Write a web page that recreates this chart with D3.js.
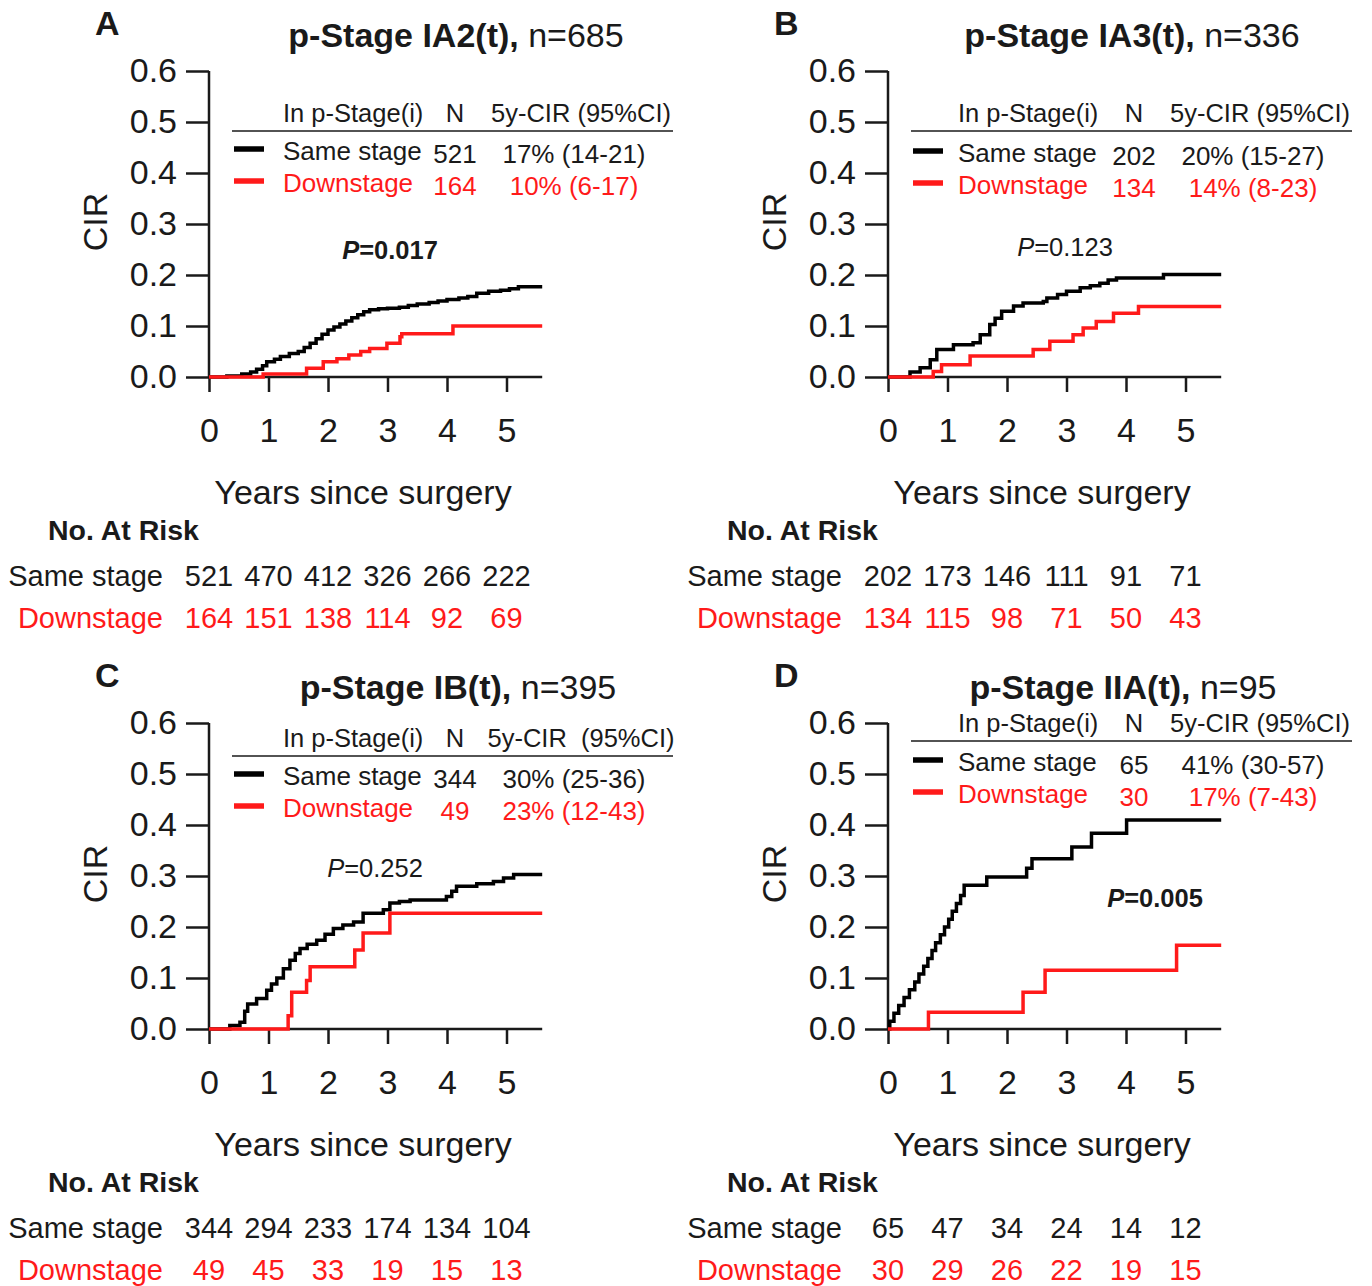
<!DOCTYPE html>
<html>
<head>
<meta charset="utf-8">
<script src="https://cdn.jsdelivr.net/npm/d3@7"></script>
<style>
  body { margin: 0; background: #fff; }
  svg { font-family: Arial, "Liberation Sans", sans-serif; }
</style>
</head>
<body>
<div id="chart"></div>
<script>
// panel labels and titles
var panelLetters = ["A", "B", "C", "D"];
var stageNames = ["p-Stage IA2(t),", "p-Stage IA3(t),", "p-Stage IB(t),", "p-Stage IIA(t),"];
var stageTotals = ["n=685", "n=336", "n=395", "n=95"];
var pValues = ["0.017", "0.123", "0.252", "0.005"];
var pBold = [true, false, false, true];

// legend table values
var sameN = ["521", "202", "344", "65"];
var downN = ["164", "134", "49", "30"];
var sameCir = ["17% (14-21)", "20% (15-27)", "30% (25-36)", "41% (30-57)"];
var downCir = ["10% (6-17)", "14% (8-23)", "23% (12-43)", "17% (7-43)"];
var cirHeads = ["5y-CIR (95%CI)", "5y-CIR (95%CI)", "5y-CIR  (95%CI)", "5y-CIR (95%CI)"];

// axis ticks
var yTicks = [0, 0.1, 0.2, 0.3, 0.4, 0.5, 0.6];
var xTicks = [0, 1, 2, 3, 4, 5];

// numbers at risk at 0..5 years
var riskSame = [
  [521, 470, 412, 326, 266, 222],
  [202, 173, 146, 111, 91, 71],
  [344, 294, 233, 174, 134, 104],
  [65, 47, 34, 24, 14, 12]
];
var riskDown = [
  [164, 151, 138, 114, 92, 69],
  [134, 115, 98, 71, 50, 43],
  [49, 45, 33, 19, 15, 13],
  [30, 29, 26, 22, 19, 15]
];

// cumulative incidence step points [years, CIR]
var curveSameA = [[0,0],[0.3,0.002],[0.55,0.006],[0.7,0.01],[0.8,0.015],[0.9,0.022],[0.97,0.03],[1.1,0.035],[1.2,0.04],[1.35,0.046],[1.5,0.05],[1.6,0.058],[1.7,0.066],[1.8,0.075],[1.9,0.084],[2.0,0.092],[2.1,0.098],[2.2,0.104],[2.3,0.11],[2.4,0.116],[2.5,0.122],[2.6,0.128],[2.7,0.132],[2.85,0.134],[3.0,0.135],[3.2,0.137],[3.35,0.14],[3.5,0.143],[3.7,0.146],[3.85,0.149],[4.0,0.152],[4.2,0.155],[4.35,0.158],[4.5,0.164],[4.7,0.168],[4.9,0.17],[5.05,0.173],[5.2,0.177]];
var curveDownA = [[0,0],[0.91,0.006],[1.64,0.017],[1.92,0.03],[2.15,0.036],[2.35,0.043],[2.55,0.05],[2.7,0.056],[2.99,0.066],[3.21,0.079],[3.24,0.085],[4.1,0.1]];
var curveSameB = [[0,0],[0.37,0.01],[0.54,0.018],[0.71,0.034],[0.82,0.054],[1.1,0.063],[1.43,0.067],[1.55,0.083],[1.71,0.103],[1.8,0.115],[1.91,0.129],[2.11,0.139],[2.27,0.145],[2.61,0.148],[2.67,0.155],[2.85,0.162],[3.0,0.168],[3.23,0.175],[3.4,0.179],[3.56,0.184],[3.7,0.19],[3.84,0.194],[4.63,0.201]];
var curveDownB = [[0,0],[0.76,0.011],[0.9,0.024],[1.38,0.041],[2.44,0.054],[2.72,0.07],[3.11,0.083],[3.28,0.096],[3.5,0.109],[3.79,0.125],[4.21,0.138]];
var curveSameC = [[0,0],[0.35,0.007],[0.52,0.013],[0.6,0.035],[0.65,0.049],[0.8,0.06],[0.97,0.076],[1.05,0.088],[1.14,0.1],[1.25,0.118],[1.36,0.135],[1.45,0.148],[1.53,0.158],[1.65,0.166],[1.81,0.174],[1.95,0.186],[2.09,0.197],[2.25,0.204],[2.43,0.21],[2.59,0.227],[2.93,0.234],[3.04,0.247],[3.2,0.25],[3.38,0.253],[3.99,0.26],[4.08,0.27],[4.16,0.28],[4.5,0.285],[4.78,0.289],[4.95,0.296],[5.12,0.303]];
var curveDownC = [[0,0],[1.33,0.026],[1.39,0.072],[1.64,0.095],[1.7,0.122],[2.45,0.155],[2.59,0.188],[3.04,0.227]];
var curveSameD = [[0,0],[0.03,0.015],[0.1,0.031],[0.18,0.046],[0.27,0.062],[0.36,0.077],[0.45,0.092],[0.52,0.108],[0.6,0.123],[0.67,0.138],[0.74,0.154],[0.8,0.169],[0.88,0.185],[0.95,0.2],[1.02,0.215],[1.08,0.231],[1.15,0.246],[1.22,0.262],[1.28,0.282],[1.66,0.298],[2.33,0.315],[2.42,0.334],[3.09,0.357],[3.42,0.384],[4.01,0.41]];
var curveDownD = [[0,0],[0.68,0.033],[2.27,0.072],[2.64,0.115],[4.85,0.164]];

var curvesSame = [curveSameA, curveSameB, curveSameC, curveSameD];
var curvesDown = [curveDownA, curveDownB, curveDownC, curveDownD];

var RED = "#ff1a1a";
var INK = "#1a1a1a";
var X_MAX = 5.6;

var svg = d3.select("#chart").append("svg")
  .attr("width", 1372)
  .attr("height", 1286);

// panel origins (x of y-axis, y of zero line), title and legend offsets
var panels = [
  {ox: 209, oy: 377, tx: 247, lx: 74, head: 113, line: 131, row1: 151, row2: 183, pX: 390, pY: 250},
  {ox: 888, oy: 377, tx: 244, lx: 70, head: 113, line: 131, row1: 153, row2: 185, pX: 1065, pY: 247},
  {ox: 209, oy: 1029, tx: 249, lx: 74, head: 738, line: 756, row1: 776, row2: 808, pX: 375, pY: 868},
  {ox: 888, oy: 1029, tx: 235, lx: 70, head: 723, line: 741, row1: 762, row2: 794, pX: 1155, pY: 898}
];

panels.forEach(function(p, i){
  drawPanel(p, i);
});

function drawPanel(p, i){
  var x = d3.scaleLinear().domain([0, X_MAX]).range([p.ox, p.ox + 59.5 * X_MAX]);
  var y = d3.scaleLinear().domain([0, 0.6]).range([p.oy, p.oy - 306]);
  var g = svg.append("g");

  // axes
  var yAxis = g.append("g")
    .attr("transform", "translate(" + p.ox + ",0)")
    .call(d3.axisLeft(y).tickValues(yTicks).tickSize(23).tickPadding(9).tickFormat(d3.format(".1f")));
  var xAxis = g.append("g")
    .attr("transform", "translate(0," + p.oy + ")")
    .call(d3.axisBottom(x).tickValues(xTicks).tickSize(15).tickPadding(26).tickFormat(d3.format("d")));
  [yAxis, xAxis].forEach(function(a){
    a.select(".domain").remove();
    a.selectAll(".tick line").attr("stroke", INK).attr("stroke-width", 2.5);
    a.selectAll(".tick text").attr("fill", INK).style("font-size", "34px");
  });
  g.append("line")
    .attr("x1", p.ox).attr("x2", p.ox)
    .attr("y1", y(0.6)).attr("y2", p.oy)
    .attr("stroke", INK).attr("stroke-width", 2.5);
  g.append("line")
    .attr("x1", p.ox).attr("x2", x(X_MAX))
    .attr("y1", p.oy).attr("y2", p.oy)
    .attr("stroke", INK).attr("stroke-width", 2.5);

  // axis titles
  g.append("text")
    .attr("transform", "translate(" + (p.ox - 114) + "," + (p.oy - 155) + ") rotate(-90)")
    .attr("text-anchor", "middle")
    .attr("dy", "0.35em")
    .attr("fill", INK)
    .style("font-size", "34px")
    .text("CIR");
  g.append("text")
    .attr("x", p.ox + 154)
    .attr("y", p.oy + 115)
    .attr("dy", "0.35em")
    .attr("text-anchor", "middle")
    .attr("fill", INK)
    .style("font-size", "34px")
    .text("Years since surgery");

  // panel letter and title
  g.append("text")
    .attr("x", p.ox - 114)
    .attr("y", p.oy - 354)
    .attr("dy", "0.35em")
    .attr("fill", INK)
    .style("font-size", "34px")
    .style("font-weight", "bold")
    .text(panelLetters[i]);
  var title = g.append("text")
    .attr("x", p.ox + p.tx)
    .attr("y", p.oy - 342)
    .attr("dy", "0.35em")
    .attr("text-anchor", "middle")
    .attr("fill", INK)
    .style("font-size", "34px");
  title.append("tspan").style("font-weight", "bold").text(stageNames[i]);
  title.append("tspan").text(" " + stageTotals[i]);

  // curves
  var line = d3.line()
    .x(function(d){ return x(d[0]); })
    .y(function(d){ return y(d[1]); })
    .curve(d3.curveStepAfter);
  var same = curvesSame[i].concat([[X_MAX, curvesSame[i][curvesSame[i].length - 1][1]]]);
  var down = curvesDown[i].concat([[X_MAX, curvesDown[i][curvesDown[i].length - 1][1]]]);
  g.append("path").attr("d", line(same))
    .attr("fill", "none").attr("stroke", "#000").attr("stroke-width", 3.5);
  g.append("path").attr("d", line(down))
    .attr("fill", "none").attr("stroke", RED).attr("stroke-width", 3.5);

  // p value
  var pt = g.append("text")
    .attr("x", p.pX)
    .attr("y", p.pY)
    .attr("dy", "0.35em")
    .attr("text-anchor", "middle")
    .attr("fill", INK)
    .style("font-size", "25.5px")
    .style("font-weight", pBold[i] ? "bold" : "normal");
  pt.append("tspan").style("font-style", "italic").text("P");
  pt.append("tspan").text("=" + pValues[i]);

  // legend table
  var lx = p.ox + 23;
  var cols = [p.ox + p.lx, p.ox + 246, p.ox + 372];
  var head = g.append("g").attr("fill", INK).style("font-size", "25.5px");
  head.append("text").attr("x", cols[0]).attr("y", p.head).attr("dy", "0.35em").text("In p-Stage(i)");
  head.append("text").attr("x", cols[1]).attr("y", p.head).attr("dy", "0.35em").attr("text-anchor", "middle").text("N");
  head.append("text").attr("x", cols[2]).attr("y", p.head).attr("dy", "0.35em").attr("text-anchor", "middle")
    .style("white-space", "pre").text(cirHeads[i]);
  g.append("line")
    .attr("x1", lx).attr("x2", p.ox + 464)
    .attr("y1", p.line).attr("y2", p.line)
    .attr("stroke", INK).attr("stroke-width", 1.5);

  var rows = [
    {y: p.row1, color: "#000", textColor: INK, label: "Same stage", n: sameN[i], cir: sameCir[i]},
    {y: p.row2, color: RED, textColor: RED, label: "Downstage", n: downN[i], cir: downCir[i]}
  ];
  rows.forEach(function(r){
    g.append("line")
      .attr("x1", lx + 2).attr("x2", lx + 32)
      .attr("y1", r.y - 2).attr("y2", r.y - 2)
      .attr("stroke", r.color).attr("stroke-width", 5.5);
    var rg = g.append("g").attr("fill", r.textColor).style("font-size", "26px");
    rg.append("text").attr("x", cols[0]).attr("y", r.y).attr("dy", "0.35em").text(r.label);
    rg.append("text").attr("x", cols[1]).attr("y", r.y + 3).attr("dy", "0.35em").attr("text-anchor", "middle").text(r.n);
    rg.append("text").attr("x", p.ox + 365).attr("y", r.y + 3).attr("dy", "0.35em").attr("text-anchor", "middle").text(r.cir);
  });

  // numbers at risk
  var baseY = p.oy + 153;
  g.append("text")
    .attr("x", p.ox - 161)
    .attr("y", baseY)
    .attr("dy", "0.35em")
    .attr("fill", INK)
    .style("font-size", "28.5px")
    .style("font-weight", "bold")
    .text("No. At Risk");
  [{vals: riskSame[i], label: "Same stage", color: INK, dy: 46},
   {vals: riskDown[i], label: "Downstage", color: RED, dy: 88}].forEach(function(r){
    g.append("text")
      .attr("x", p.ox - 46)
      .attr("y", baseY + r.dy)
      .attr("dy", "0.35em")
      .attr("text-anchor", "end")
      .attr("fill", r.color)
      .style("font-size", "29px")
      .text(r.label);
    g.selectAll(null).data(r.vals).enter().append("text")
      .attr("x", function(d, k){ return x(xTicks[k]); })
      .attr("y", baseY + r.dy)
      .attr("dy", "0.35em")
      .attr("text-anchor", "middle")
      .attr("fill", r.color)
      .style("font-size", "29px")
      .text(function(d){ return d; });
  });
}
</script>
</body>
</html>
